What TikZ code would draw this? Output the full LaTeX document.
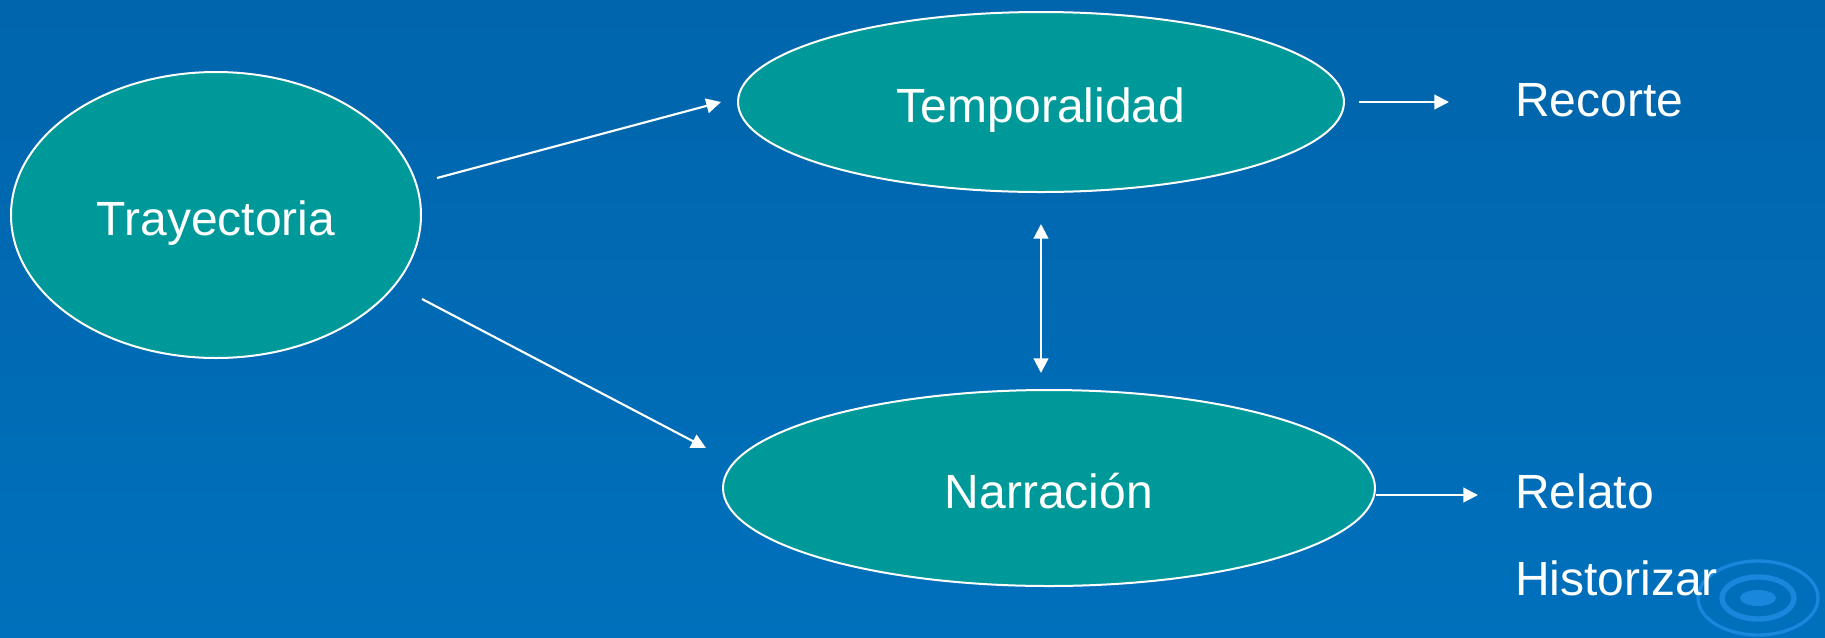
\documentclass[tikz,border=0pt]{standalone}
\usepackage{fontspec}
\setmainfont{Liberation Sans}
\usetikzlibrary{calc,arrows.meta,shapes.geometric}
\definecolor{bgtop}{RGB}{0,101,172}
\definecolor{bgbot}{RGB}{0,112,188}
\definecolor{tealfill}{RGB}{0,153,153}
\definecolor{ripple}{RGB}{25,135,220}
\begin{document}
\begin{tikzpicture}[x=0.75pt,y=0.75pt,yscale=-1,xscale=1,
    bubble/.style={ellipse,draw=white,line width=1.5pt,fill=tealfill,inner sep=0pt,text=white,text height=30pt,text depth=0pt,font=\fontsize{36}{43}\selectfont},
    label/.style={anchor=base west,inner sep=0pt,text=white,font=\fontsize{36}{43}\selectfont},
    arr/.style={draw=white,line width=1.6pt,-{Triangle[length=11pt,width=11pt]}}]
        %Shape: Background
        \shade [top color=bgtop,bottom color=bgbot] (0,0) rectangle (1825,637);
        \useasboundingbox (0,0) rectangle (1825,637);

        %Shape: Ripple
        \draw [ripple,line width=2.5pt] (1758,598) ellipse [x radius=60, y radius=37];
        \draw [ripple,line width=4pt] (1758,598) ellipse [x radius=36, y radius=21];
        \fill [ripple] (1758,598) ellipse [x radius=18, y radius=8];

        %Shape: Ellipse
        \node [bubble,minimum width=307.5pt,minimum height=214.5pt] (traj) at (216,215) {Trayectoria};
        \node [bubble,minimum width=454.5pt,minimum height=135pt] (temp) at (1041,102) {Temporalidad};
        \node [bubble,minimum width=489pt,minimum height=147pt] (narr) at (1049,488) {Narración};

        % Text Node
        \node [label] (recorte) at (1515,116) {Recorte};
        \node [label] (relato) at (1515,508) {Relato};
        \node [label] (hist) at (1515,595) {Historizar};

        %Straight Lines
        \draw [arr] ($(traj.east)+(15,-37)$) -- ($(temp.west)+(-16,0)$);
        \draw [arr] ($(traj.east)+(0,84)$) -- ($(narr.west)+(-16,-40)$);
        \draw [arr,{Triangle[length=11pt,width=11pt]}-{Triangle[length=11pt,width=11pt]}] ($(temp.south)+(0,31)$) -- ($(temp.south |- narr.north)+(0,-16)$);
        \draw [arr] ($(temp.east)+(14,0)$) -- ($(recorte.west |- temp.east)+(-66,0)$);
        \draw [arr] ($(narr.east)+(0,7)$) -- ($(relato.west |- narr.east)+(-37,7)$);
\end{tikzpicture}
\end{document}
